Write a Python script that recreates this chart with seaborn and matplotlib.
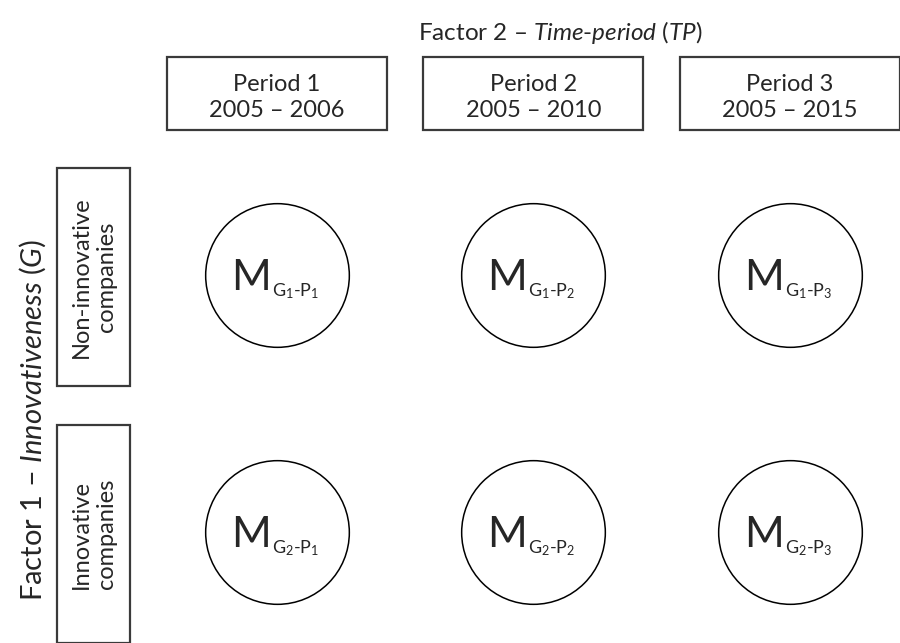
import matplotlib
matplotlib.use("Agg")
import matplotlib.pyplot as plt
from matplotlib.patches import Rectangle
import pandas as pd
import seaborn as sns

# design: 2 factors x 3 time periods
periods = ["Period 1", "Period 2", "Period 3"]
years = ["2005 \u2013 2006", "2005 \u2013 2010", "2005 \u2013 2015"]
groups = ["Non-innovative\ncompanies", "Innovative\ncompanies"]
cell_sub = [["$\\mathrm{G}_1$-$\\mathrm{P}_1$", "$\\mathrm{G}_1$-$\\mathrm{P}_2$", "$\\mathrm{G}_1$-$\\mathrm{P}_3$"],
            ["$\\mathrm{G}_2$-$\\mathrm{P}_1$", "$\\mathrm{G}_2$-$\\mathrm{P}_2$", "$\\mathrm{G}_2$-$\\mathrm{P}_3$"]]
top_title = "Factor 2 \u2013 $\\it{Time}$-$\\it{period}$ ($\\it{TP}$)"
left_title = "Factor 1 \u2013 $\\it{Innovativeness}$ ($\\it{G}$)"

sns.set_theme(style="white")
plt.rcParams["font.family"] = ["Lato", "DejaVu Sans"]
plt.rcParams["mathtext.fontset"] = "custom"
plt.rcParams["mathtext.rm"] = "Lato"
plt.rcParams["mathtext.it"] = "Lato:italic"

txt = "#262626"
edge = "#3a3a3a"

cells = pd.DataFrame([(c, r) for r in range(len(groups)) for c in range(len(periods))],
                     columns=["period", "group"])

fig = plt.figure(figsize=(9, 6.43), dpi=100)
ax = fig.add_axes([0, 0, 1, 1])
ax.set_xlim(-1.078, 2.429)
ax.set_ylim(1.432, -1.070)
ax.axis("off")

# circles for each model
sns.scatterplot(data=cells, x="period", y="group", s=10700, marker="o",
                facecolor="white", edgecolor="black", linewidth=1.1, ax=ax, zorder=2)

for r in range(len(groups)):
    for c in range(len(periods)):
        ax.annotate("M", (c, r), xytext=(-4.5, -11), textcoords="offset points",
                    ha="right", va="baseline", fontsize=31, color=txt, zorder=3)
        ax.annotate(cell_sub[r][c], (c, r), xytext=(-3.5, -15), textcoords="offset points",
                    ha="left", va="baseline", fontsize=13, color=txt, zorder=3)

# period boxes on top
for c, (p, y) in enumerate(zip(periods, years)):
    ax.add_patch(Rectangle((c - 0.429, -0.849), 0.858, 0.285, fill=False,
                           edgecolor=edge, linewidth=1.6))
    ax.text(c, -0.691, p + "\n" + y, ha="center", va="center", fontsize=17,
            color=txt, linespacing=1.3)

# group boxes on the left
for r, g in enumerate(groups):
    ax.add_patch(Rectangle((-0.856, r - 0.415), 0.284, 0.848, fill=False,
                           edgecolor=edge, linewidth=1.6))
    ax.text(-0.712, r + 0.008, g, ha="center", va="center", fontsize=17,
            color=txt, rotation=90, linespacing=1.3)

ax.text(1.104, -0.942, top_title, ha="center", va="center", fontsize=17.5, color=txt)
ax.text(-0.950, 0.564, left_title, ha="center", va="center", fontsize=21,
        color=txt, rotation=90)

fig.savefig("out.png", dpi=100)
